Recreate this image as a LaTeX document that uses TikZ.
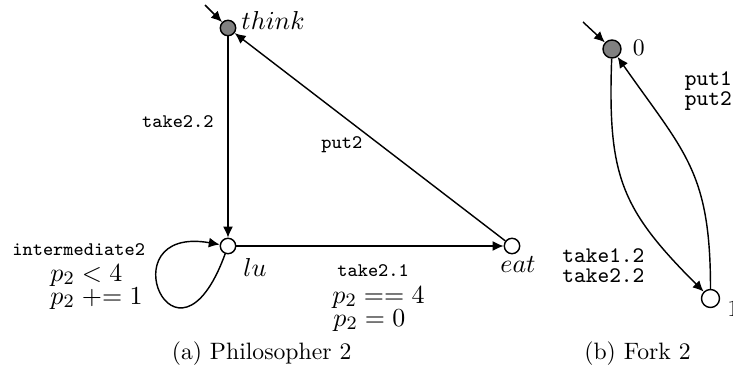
\documentclass[tikz,border=0pt]{standalone}
\usetikzlibrary{arrows.meta}
\begin{document}
\begin{tikzpicture}[x=0.422pt,y=0.422pt,
  state/.style={circle,draw,line width=0.6pt,minimum size=6.5pt,inner sep=0pt,fill=white},
  initstate/.style={state,fill=gray},
  fstate/.style={state,minimum size=7.6pt},
  finitstate/.style={fstate,fill=gray},
  edge/.style={-{Latex[length=4.6pt,width=4.2pt]},line width=0.6pt},
  mlab/.style={font=\fontsize{11.1}{13}\selectfont,inner sep=0pt,anchor=base west},
  tlab/.style={font=\fontsize{8.1}{10}\selectfont\ttfamily,inner sep=0pt,anchor=base west},
  ftlab/.style={font=\fontsize{9.4}{11}\selectfont\ttfamily,inner sep=0pt,anchor=base west},
  nlab/.style={font=\fontsize{10}{12}\selectfont,inner sep=0pt,anchor=base west},
  caption/.style={font=\fontsize{10}{12}\selectfont,inner sep=0pt,anchor=base}]
\useasboundingbox (0,0) rectangle (733,374);
% Philosopher 2
\node[initstate] (think) at (228,346) {};
\node[state] (lu) at (228,128) {};
\node[state] (eat) at (512,128) {};
\coordinate (thinkin) at (205,369);
\draw[edge] (thinkin) -- (think);
\draw[edge] (think) -- (lu);
\draw[edge] (lu) -- (eat);
\draw[edge] (eat) -- (think);
\draw[edge] (lu.250) .. controls +(250:61pt) and +(170:49pt) .. (lu.170);
\node[mlab] (thinklbl) at (241,345) {$think$};
\node[tlab,anchor=base east] (ltake22) at (214,247) {take2.2};
\node[tlab] (lput2) at (321,226) {put2};
\node[tlab] (linter) at (12,119) {intermediate2};
\node[mlab] (lless) at (50,93) {$p_2 < 4$};
\node[mlab] (lplus) at (50,70) {$p_2 \mathrel{+}= 1$};
\node[mlab] (lulbl) at (243,98) {$lu$};
\node[tlab] (ltake21) at (337,98) {take2.1};
\node[mlab] (eatlbl) at (500,102) {$eat$};
\node[mlab] (leq) at (332,71) {$p_2 == 4$};
\node[mlab] (lset) at (333,48) {$p_2 = 0$};
\node[caption] (capa) at (261.6,15) {(a) Philosopher 2};
% Fork 2
\node[finitstate] (f0) at (612,325) {};
\node[fstate] (f1) at (710.5,75.5) {};
\coordinate (f0in) at (583,352);
\draw[edge] (f0in) -- (f0);
\draw[edge] (f0) to[out=268,in=135,looseness=1.2] (f1);
\draw[edge] (f1) to[out=90,in=305,looseness=1.2] (f0);
\node[nlab] (f0lbl) at (632.5,319) {$0$};
\node[nlab] (f1lbl) at (727,58) {$1$};
\node[ftlab] (lput1f) at (684.5,289) {put1};
\node[ftlab] (lput2f) at (684.5,269) {put2};
\node[ftlab] (ltake12f) at (562,111.3) {take1.2};
\node[ftlab] (ltake22f) at (562,91.3) {take2.2};
\node[caption] (capb) at (637.5,15) {(b) Fork 2};
\end{tikzpicture}
\end{document}
